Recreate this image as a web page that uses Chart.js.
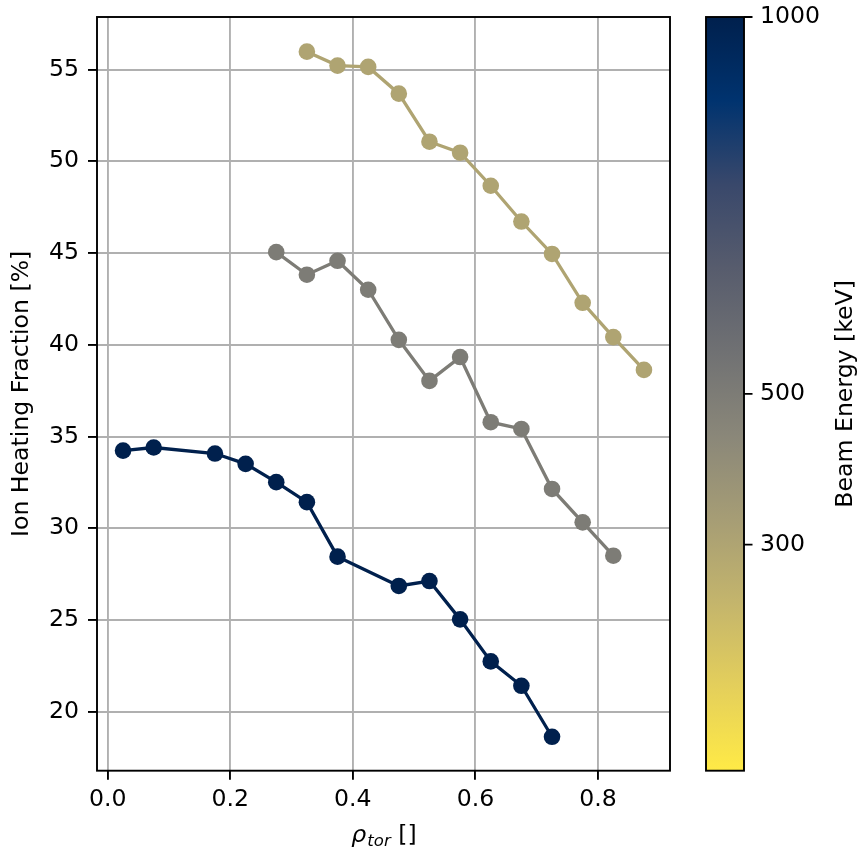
<!DOCTYPE html>
<html>
<head>
<meta charset="utf-8">
<script src="https://cdn.jsdelivr.net/npm/chart.js@4.4.1/dist/chart.umd.min.js"></script>
<style>
  html, body { margin: 0; padding: 0; background: #fff; }
  #wrap { width: 860px; height: 850px; }
</style>
</head>
<body>
<div id="wrap"><canvas id="chart" width="860" height="850"></canvas></div>
<script>
// Ion heating fraction vs rho_tor, one line per beam energy

const beamEnergies = [1000, 500, 300]; // keV

const rho1000 = [0.025, 0.075, 0.175, 0.225, 0.275, 0.325, 0.375, 0.475, 0.525, 0.575, 0.625, 0.675, 0.725];
const ion1000 = [34.23, 34.40, 34.07, 33.51, 32.51, 31.42, 28.45, 26.85, 27.12, 25.03, 22.74, 21.41, 18.63];

const rho500 = [0.275, 0.325, 0.375, 0.425, 0.475, 0.525, 0.575, 0.625, 0.675, 0.725, 0.775, 0.825];
const ion500 = [45.05, 43.82, 44.58, 43.00, 40.27, 38.03, 39.33, 35.78, 35.41, 32.14, 30.32, 28.50];

const rho300 = [0.325, 0.375, 0.425, 0.475, 0.525, 0.575, 0.625, 0.675, 0.725, 0.775, 0.825, 0.875];
const ion300 = [55.98, 55.22, 55.15, 53.69, 51.07, 50.47, 48.67, 46.72, 44.95, 42.29, 40.42, 38.63];

const xTicks = [0.0, 0.2, 0.4, 0.6, 0.8];
const yTicks = [20, 25, 30, 35, 40, 45, 50, 55];
const cbarTicks = [300, 500, 1000];
const cbarRange = [0, 1000];

// cividis samples, low -> high (colorbar uses it reversed)
const cividis = ['#00204D', '#00336F', '#39486B', '#575C6D', '#707173', '#8A8779', '#A69D75', '#C4B56C', '#E4CF5B', '#FFEA46'];

const FONT = { family: 'DejaVu Sans', size: 23.6 };

function hexToRgb(h) {
    return [1, 3, 5].map(i => parseInt(h.slice(i, i + 2), 16));
}

function colorFor(energy) {
    // reversed cividis, linear norm over cbarRange
    const t = 1 - (energy - cbarRange[0]) / (cbarRange[1] - cbarRange[0]);
    const pos = t * (cividis.length - 1);
    const i = Math.min(Math.floor(pos), cividis.length - 2);
    const f = pos - i;
    const a = hexToRgb(cividis[i]);
    const b = hexToRgb(cividis[i + 1]);
    const c = a.map((v, k) => Math.round(v + (b[k] - v) * f));
    return `rgb(${c[0]}, ${c[1]}, ${c[2]})`;
}

function makeSet(energy, xs, ys) {
    const col = colorFor(energy);
    return {
        label: energy + ' keV',
        data: xs.map((x, i) => ({ x: x, y: ys[i] })),
        borderColor: col,
        backgroundColor: col,
        pointBackgroundColor: col,
        pointBorderWidth: 0,
        pointRadius: 8.3,
        borderWidth: 3.3,
        tension: 0,
        fill: false
    };
}

// keep label overhang from pushing the plot area around
function noPad(s) {
    s.paddingTop = 0;
    s.paddingBottom = 0;
}

// spines, colorbar and the math-style x label
const extras = {
    id: 'extras',
    afterDraw(chart) {
        const ctx = chart.ctx;
        const a = chart.chartArea;
        ctx.save();

        // axes frame
        ctx.strokeStyle = '#000';
        ctx.lineWidth = 1.9;
        ctx.strokeRect(a.left, a.top, a.right - a.left, a.bottom - a.top);

        // colorbar
        const cb = chart.scales.cb;
        const x0 = a.right + 36;
        const w = 38;
        const yTop = cb.getPixelForValue(cbarRange[1]);
        const yBot = cb.getPixelForValue(cbarRange[0]);
        const grad = ctx.createLinearGradient(0, yBot, 0, yTop);
        const n = cividis.length;
        cividis.forEach((c, i) => grad.addColorStop(i / (n - 1), cividis[n - 1 - i]));
        ctx.fillStyle = grad;
        ctx.fillRect(x0, yTop, w, yBot - yTop);
        ctx.strokeRect(x0, yTop, w, yBot - yTop);
        ctx.beginPath();
        cbarTicks.forEach(v => {
            const y = cb.getPixelForValue(v);
            ctx.moveTo(x0 + w, y);
            ctx.lineTo(x0 + w + 8.5, y);
        });
        ctx.stroke();

        // colorbar title
        ctx.fillStyle = '#000';
        ctx.font = `${FONT.size}px "${FONT.family}"`;
        ctx.textAlign = 'center';
        ctx.textBaseline = 'middle';
        ctx.translate(846, (yTop + yBot) / 2);
        ctx.rotate(-Math.PI / 2);
        ctx.fillText('Beam Energy [keV]', 0, 0);
        ctx.setTransform(1, 0, 0, 1, 0, 0);

        // x label: rho_tor []
        const big = `italic ${FONT.size}px "${FONT.family}"`;
        const small = `italic ${FONT.size * 0.7}px "${FONT.family}"`;
        const reg = `${FONT.size}px "${FONT.family}"`;
        ctx.textAlign = 'left';
        ctx.textBaseline = 'alphabetic';
        ctx.font = big; const w1 = ctx.measureText('\u03C1').width;
        ctx.font = small; const w2 = ctx.measureText('tor').width;
        ctx.font = reg; const w3 = ctx.measureText(' []').width;
        let x = (a.left + a.right) / 2 - (w1 + w2 + w3) / 2;
        const base = 842;
        ctx.font = big; ctx.fillText('\u03C1', x, base); x += w1 + 1;
        ctx.font = small; ctx.fillText('tor', x, base + 3.5); x += w2;
        ctx.font = reg; ctx.fillText(' []', x, base);

        ctx.restore();
    }
};

const gridStyle = {
    color: '#b0b0b0',
    lineWidth: 1.9,
    tickColor: '#000',
    tickWidth: 1.9,
    tickLength: 9,
    drawTicks: true
};

new Chart(document.getElementById('chart'), {
    type: 'line',
    data: {
        datasets: [
            makeSet(beamEnergies[0], rho1000, ion1000),
            makeSet(beamEnergies[1], rho500, ion500),
            makeSet(beamEnergies[2], rho300, ion300)
        ]
    },
    options: {
        responsive: false,
        animation: false,
        layout: { padding: { top: 17, left: 0, right: 0, bottom: 0 } },
        plugins: {
            legend: { display: false },
            tooltip: { enabled: false }
        },
        scales: {
            x: {
                type: 'linear',
                min: -0.0175,
                max: 0.9175,
                afterBuildTicks: s => { s.ticks = xTicks.map(v => ({ value: v })); },
                afterFit: s => { s.height = 79.3; },
                grid: gridStyle,
                border: { display: false },
                ticks: {
                    font: FONT,
                    color: '#000',
                    padding: 6,
                    maxRotation: 0,
                    callback: v => v.toFixed(1)
                }
            },
            y: {
                type: 'linear',
                min: 16.78,
                max: 57.87,
                afterBuildTicks: s => { s.ticks = yTicks.map(v => ({ value: v })); },
                afterFit: s => { s.width = 97; noPad(s); },
                grid: gridStyle,
                border: { display: false },
                ticks: {
                    font: FONT,
                    color: '#000',
                    padding: 9,
                    callback: v => String(v)
                },
                title: {
                    display: true,
                    text: 'Ion Heating Fraction [%]',
                    font: FONT,
                    color: '#000',
                    padding: { top: 8, bottom: 0 }
                }
            },
            cb: {
                type: 'linear',
                position: 'right',
                min: cbarRange[0],
                max: cbarRange[1],
                afterBuildTicks: s => { s.ticks = cbarTicks.map(v => ({ value: v })); },
                afterFit: s => { s.width = 190; noPad(s); },
                grid: { display: false, drawTicks: false },
                border: { display: false },
                ticks: {
                    font: FONT,
                    color: '#000',
                    padding: 90,
                    callback: v => String(v)
                }
            }
        }
    },
    plugins: [extras]
});
</script>
</body>
</html>
